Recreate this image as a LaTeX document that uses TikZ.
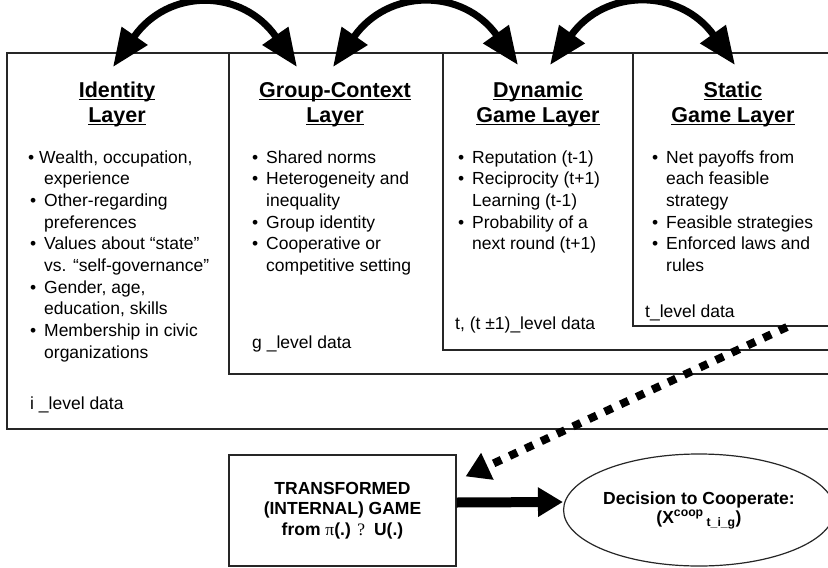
\documentclass[tikz,border=0pt]{standalone}
\usepackage{fontspec}
\setmainfont{Liberation Sans}
\newfontfamily\serifx{Liberation Serif}
\usetikzlibrary{arrows.meta,shapes.geometric}
\newcommand\myul[1]{\setbox0\hbox{#1}\rlap{\rule[-3.4pt]{\wd0}{1.8pt}}\box0}
\newcommand\bul{\makebox[14pt][l]{\textbullet}}
\newcommand\ind{\hspace*{14pt}}
\begin{document}
\begin{tikzpicture}[x=1pt,y=-1pt,
  layerbox/.style={draw=black!85,line width=1.2pt,fill=white},
  titletext/.style={font=\fontsize{21.5}{25}\selectfont\bfseries,align=center,anchor=base,inner sep=0pt},
  bodytext/.style={font=\fontsize{17.5}{21.7}\selectfont,align=left,anchor=base west,inner sep=0pt},
  curvedarrow/.style={line width=7pt,{Triangle[length=38pt,width=30pt]}-{Triangle[length=38pt,width=30pt]}},
  dotarrow/.style={line width=8pt,dash pattern=on 8.5pt off 9pt,-{Triangle[length=24pt,width=28pt]}},
  thickarrow/.style={line width=10pt,-{Triangle[length=25pt,width=28pt]}},
  outline/.style={draw=black!85,line width=1.2pt}
]
\fill[white] (0,0) rectangle (828,568);
\useasboundingbox (0,0) rectangle (828,568);
\begin{scope}
\clip (0,0) rectangle (828,568);
\draw[layerbox] (7,53) rectangle (845,429);
\draw[layerbox] (229,53) rectangle (845,374);
\draw[layerbox] (443,53) rectangle (845,350);
\draw[layerbox] (633,53) rectangle (845,326);
\end{scope}

% titles (anchor base = baseline of the last line)
\node[titletext] (tid) at (117,122) {\myul{Identity}\\\myul{Layer}};
\node[titletext] (tgc) at (335,122) {\myul{Group-Context}\\\myul{Layer}};
\node[titletext] (tdy) at (538,122) {\myul{Dynamic}\\\myul{Game Layer}};
\node[titletext] (tst) at (733,122) {\myul{Static}\\\myul{Game Layer}};

% lists (anchor base = baseline of the last line)
\node[bodytext] (lid) at (30,358.3) {\hspace*{-2pt}\makebox[11pt][l]{\textbullet}Wealth, occupation,\\
\ind experience\\ \bul Other-regarding\\ \ind preferences\\ \bul Values about “state”\\
\ind vs. “self-governance”\\ \bul Gender, age,\\ \ind education, skills\\
\bul Membership in civic\\ \ind organizations};
\node[bodytext] (lgc) at (252,271.5) {\bul Shared norms\\ \bul Heterogeneity and\\ \ind inequality\\
\bul Group identity\\ \bul Cooperative or\\ \ind competitive setting};
\node[bodytext] (ldy) at (458,249.8) {\bul Reputation (t-1)\\ \bul Reciprocity (t+1)\\ \ind Learning (t-1)\\
\bul Probability of a\\ \ind next round (t+1)};
\node[bodytext] (lst) at (652,271.5) {\bul Net payoffs from\\ \ind each feasible\\ \ind strategy\\
\bul Feasible strategies\\ \bul Enforced laws and\\ \ind rules};

% level data labels
\node[bodytext] (did) at (30,409) {i \_level data};
\node[bodytext] (dgc) at (252,348) {g \_level data};
\node[bodytext] (ddy) at (455,329) {t, (t ±1)\_level data};
\node[bodytext] (dst) at (645,317) {t\_level data};

% bottom
\node[outline,minimum width=227pt,minimum height=111pt,inner sep=0pt,align=center,
  font=\fontsize{17.5}{20.5}\selectfont\bfseries] (tg) at (342.5,510.5)
  {TRANSFORMED\\(INTERNAL) GAME\\from {\serifx\mdseries π}(.) {\serifx\mdseries ?}\hspace{9pt}U(.)};
\node[outline,ellipse,minimum width=251pt,minimum height=112pt,inner sep=0pt,align=center,
  font=\fontsize{17.5}{19}\selectfont\bfseries] (dec) at (699,510)
  {Decision to Cooperate:\\(X\textsuperscript{coop}\,\textsubscript{t\_i\_g})};

% arrows
\coordinate (a1) at (113,67);
\coordinate (a2) at (297,67);
\coordinate (a3) at (333,67);
\coordinate (a4) at (518,65);
\coordinate (a5) at (550,65);
\coordinate (a6) at (735,65);
\draw[curvedarrow] (a1) .. controls (168,-12) and (242,-12) .. (a2);
\draw[curvedarrow] (a3) .. controls (388,-12) and (463,-12) .. (a4);
\draw[curvedarrow] (a5) .. controls (605,-12) and (680,-12) .. (a6);

\coordinate (ds) at (787,327);
\draw[dotarrow] (ds) -- ([xshift=9pt,yshift=-22pt]tg.north east);
\draw[thickarrow] ([yshift=8pt]tg.east) -- ([yshift=8pt]dec.west);
\end{tikzpicture}
\end{document}
